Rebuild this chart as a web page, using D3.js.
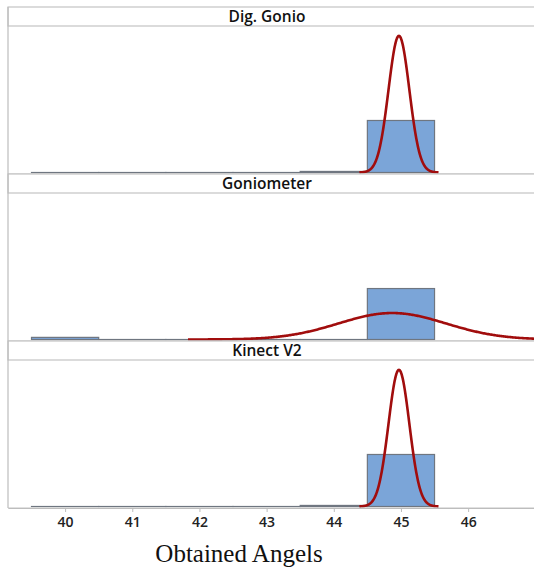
<!DOCTYPE html>
<html>
<head>
<meta charset="utf-8">
<script src="https://cdn.jsdelivr.net/npm/d3@7"></script>
<style>
  body { margin: 0; background: #fff; }
  svg { display: block; }
  .strip-title { font-family: "Open Sans", sans-serif; font-weight: 600; font-size: 15.5px; fill: #111; }
  .tick text { font-family: "Open Sans", sans-serif; font-weight: 600; font-size: 14px; fill: #222; }
  .axis-title { font-family: "Liberation Serif", "Times New Roman", serif; font-size: 25px; fill: #111; }
</style>
</head>
<body>
<div id="chart"></div>
<script>
// histogram bins (bin centres, width 1)
const binCenters = [40, 41, 42, 43, 44, 45];
const panelNames = ['Dig. Gonio', 'Goniometer', 'Kinect V2'];

// counts per bin, one array per panel
const digGonioCounts = [0, 0, 0, 0, 1, 49];
const goniometerCounts = [2, 0, 0, 0, 0, 48];
const kinectCounts = [0, 0, 0, 0, 1, 49];

// fitted normal per panel
const fitMeans = [44.97, 44.87, 44.97];
const fitSDs = [0.155, 0.8, 0.155];

const xTicks = [40, 41, 42, 43, 44, 45, 46];
const xTitle = 'Obtained Angels';

const width = 534, height = 570;
const left = 8, right = 540;
const top0 = 7, stripH = 19, plotH = 148;

const countsByPanel = [digGonioCounts, goniometerCounts, kinectCounts];

const svg = d3.select('#chart').append('svg')
  .attr('width', width)
  .attr('height', height);

const x = d3.scaleLinear()
  .domain([39.15, 47.07])
  .range([left, right]);

const yMax = 138;

panelNames.forEach((name, i) => {
  const stripTop = top0 + i * (stripH + plotH);
  const plotTop = stripTop + stripH;
  const plotBottom = plotTop + plotH;

  const y = d3.scaleLinear()
    .domain([0, yMax])
    .range([plotBottom - 1.5, plotTop]);

  const g = svg.append('g').attr('class', 'panel');

  // strip
  g.append('rect')
    .attr('x', left).attr('y', stripTop)
    .attr('width', right - left).attr('height', stripH)
    .attr('fill', '#fff')
    .attr('stroke', '#c4c4c4').attr('stroke-width', 1.2);

  g.append('text')
    .attr('class', 'strip-title')
    .attr('x', 267)
    .attr('y', stripTop + stripH / 2)
    .attr('dy', '0.36em')
    .attr('text-anchor', 'middle')
    .text(name);

  // bars
  const counts = countsByPanel[i];
  const n = d3.sum(counts);
  g.selectAll('.bar')
    .data(binCenters.map((c, j) => ({ c, v: counts[j] })))
    .join('rect')
    .attr('class', 'bar')
    .attr('x', d => x(d.c - 0.5))
    .attr('width', d => x(d.c + 0.5) - x(d.c - 0.5))
    .attr('y', d => y(d.v))
    .attr('height', d => Math.max(0.01, y(0) - y(d.v)))
    .attr('fill', '#7ba5d8')
    .attr('stroke', '#6f7680')
    .attr('stroke-width', 1.2);

  // fitted normal curve, scaled to counts * bin width
  const mu = fitMeans[i], sd = fitSDs[i];
  const lo = mu - 3.8 * sd, hi = mu + 3.8 * sd;
  const pts = d3.range(0, 401).map(k => {
    const v = lo + (hi - lo) * k / 400;
    const z = (v - mu) / sd;
    return [v, n * Math.exp(-0.5 * z * z) / (sd * Math.sqrt(2 * Math.PI))];
  });

  g.append('path')
    .datum(pts)
    .attr('fill', 'none')
    .attr('stroke', '#a10d0d')
    .attr('stroke-width', 2.6)
    .attr('d', d3.line().x(d => x(d[0])).y(d => y(d[1])));

  // panel bottom rule
  g.append('line')
    .attr('x1', left).attr('x2', right)
    .attr('y1', plotBottom).attr('y2', plotBottom)
    .attr('stroke', '#c4c4c4').attr('stroke-width', 1.2);
});

// left frame line
const bottomY = top0 + 3 * (stripH + plotH);
svg.append('line')
  .attr('x1', left).attr('x2', left)
  .attr('y1', top0).attr('y2', bottomY)
  .attr('stroke', '#bdbdbd').attr('stroke-width', 1.2);

// x axis
const axis = svg.append('g')
  .attr('transform', `translate(0,${bottomY})`)
  .call(d3.axisBottom(x).tickValues(xTicks).tickSize(4).tickSizeOuter(0).tickPadding(5));
axis.select('.domain').attr('stroke', '#bdbdbd').attr('stroke-width', 1.2);
axis.selectAll('.tick line').attr('stroke', '#bdbdbd');

svg.append('text')
  .attr('class', 'axis-title')
  .attr('x', 239)
  .attr('y', 562)
  .attr('text-anchor', 'middle')
  .text(xTitle);
</script>
</body>
</html>
